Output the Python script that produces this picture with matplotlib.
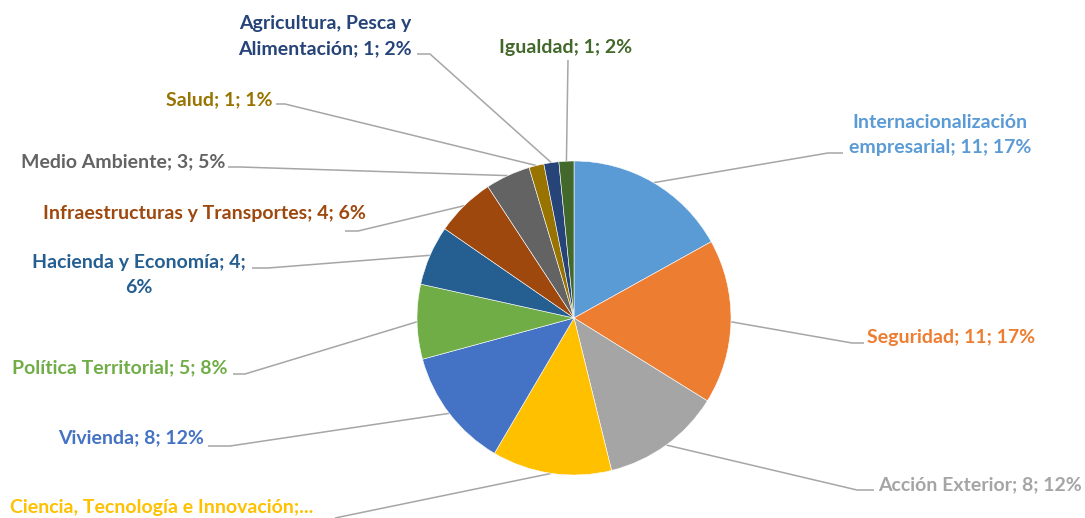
import matplotlib
matplotlib.use("Agg")
import matplotlib.pyplot as plt
import numpy as np

# data
names = ["Internacionalización empresarial", "Seguridad", "Acción Exterior",
         "Ciencia, Tecnología e Innovación", "Vivienda", "Política Territorial",
         "Hacienda y Economía", "Infraestructuras y Transportes", "Medio Ambiente",
         "Salud", "Agricultura, Pesca y Alimentación", "Igualdad"]
values = [11, 11, 8, 8, 8, 5, 4, 4, 3, 1, 1, 1]
pcts = [17, 17, 12, 12, 12, 8, 6, 6, 5, 1, 2, 2]
# labels as shown (wrapped / truncated the way the chart shows them)
shown = ["Internacionalización\nempresarial; 11; 17%", "Seguridad; 11; 17%",
         "Acción Exterior; 8; 12%", "Ciencia, Tecnología e Innovación;...",
         "Vivienda; 8; 12%", "Política Territorial; 5; 8%",
         "Hacienda y Economía; 4;\n6%", "Infraestructuras y Transportes; 4; 6%",
         "Medio Ambiente; 3; 5%", "Salud; 1; 1%",
         "Agricultura, Pesca y\nAlimentación; 1; 2%", "Igualdad; 1; 2%"]

colors = ["#5B9BD5", "#ED7D31", "#A5A5A5", "#FFC000", "#4472C4", "#70AD47",
          "#255E91", "#9E480E", "#636363", "#997300", "#264478", "#43682B"]

# label layout in pixels: text anchor, alignment, leader elbow, leader end
text_xy = [(940, 135), (867, 337), (878, 485), (10, 508), (204, 438), (228, 368),
           (139, 275), (366, 214), (225, 162), (272, 100), (325, 36), (566, 47)]
text_ha = ["center", "left", "left", "left", "right", "right",
           "center", "right", "right", "right", "center", "center"]
elbow = [(828, 153), (852, 343), (857, 490), (335, 518), (230, 446), (245, 374),
         (268, 268), (358, 231), (240, 167), (285, 104), (430, 54), (568, 60)]
lend = [(843, 153), (864, 343), (874, 490), (335, 518), (208, 446), (233, 374),
        (252, 268), (345, 231), (228, 167), (276, 104), (417, 54), (568, 60)]

W, H = 1085, 518
cx, cy, r = 574, 318, 157

fig = plt.figure(figsize=(W / 100, H / 100), dpi=100)
ax = fig.add_axes([0, 0, 1, 1])

wedges, _ = ax.pie(values, colors=colors, startangle=-90, counterclock=True,
                   center=(cx, cy), radius=r,
                   wedgeprops=dict(edgecolor="white", linewidth=0.4))
ax.set_xlim(0, W)
ax.set_ylim(H, 0)
ax.set_aspect("equal")
ax.axis("off")

for i, w in enumerate(wedges):
    mid = np.deg2rad((w.theta1 + w.theta2) / 2)
    sx, sy = cx + r * np.cos(mid), cy + r * np.sin(mid)
    ax.plot([sx, elbow[i][0], lend[i][0]], [sy, elbow[i][1], lend[i][1]],
            color="#A6A6A6", lw=1.1, zorder=0, solid_capstyle="butt")
    ax.text(text_xy[i][0], text_xy[i][1], shown[i], color=colors[i],
            ha=text_ha[i], va="center", multialignment="center",
            fontsize=14.0, fontweight="bold", family=["Lato", "DejaVu Sans"],
            linespacing=1.55)

fig.savefig("out.png", dpi=100)
